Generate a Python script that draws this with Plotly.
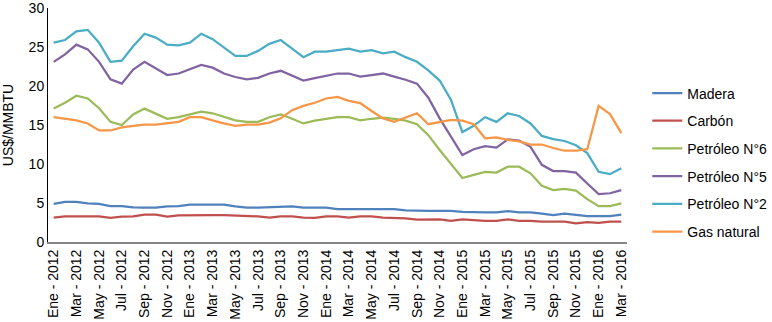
import plotly.graph_objects as go

months_es = ["Ene", "Feb", "Mar", "Abr", "May", "Jun", "Jul", "Ago", "Sep", "Oct", "Nov", "Dic"]
years = [2012, 2013, 2014, 2015, 2016]
categories = [f"{m} - {y}" for y in years for m in months_es][:51]  # Ene 2012 .. Mar 2016
tick_labels = categories[::2]

madera = [4.9, 5.13, 5.13, 4.96, 4.9, 4.6, 4.6, 4.45, 4.4, 4.4, 4.57, 4.6, 4.8, 4.8, 4.8, 4.8, 4.57,
          4.4, 4.4, 4.45, 4.57, 4.57, 4.4, 4.4, 4.4, 4.23, 4.23, 4.23, 4.23, 4.23, 4.23, 4.06, 4.0,
          4.0, 4.0, 4.0, 3.85, 3.8, 3.8, 3.8, 3.97, 3.8, 3.8, 3.63, 3.46, 3.63, 3.46, 3.33, 3.33, 3.33, 3.5]
carbon = [3.12, 3.29, 3.3, 3.3, 3.29, 3.08, 3.25, 3.3, 3.5, 3.5, 3.25, 3.42, 3.46, 3.46, 3.46, 3.46, 3.42,
          3.29, 3.29, 3.12, 3.29, 3.3, 3.12, 3.08, 3.29, 3.29, 3.12, 3.3, 3.29, 3.12, 3.08, 3.04, 2.86,
          2.86, 2.9, 2.7, 2.9, 2.8, 2.7, 2.7, 2.9, 2.7, 2.7, 2.6, 2.6, 2.6, 2.4, 2.55, 2.45, 2.6, 2.6]
petroleo6 = [17.1, 17.85, 18.75, 18.4, 17.15, 15.4, 15.0, 16.35, 17.1, 16.5, 15.8, 16.0, 16.35, 16.7, 16.5, 16.0, 15.6,
             15.4, 15.4, 16.0, 16.35, 15.8, 15.2, 15.55, 15.8, 16.0, 16.0, 15.6, 15.8, 15.95, 15.8, 15.55, 15.1,
             13.7, 11.8, 10.0, 8.2, 8.6, 9.0, 8.9, 9.65, 9.65, 8.8, 7.2, 6.65, 6.8, 6.6, 5.5, 4.6, 4.6, 4.95]
petroleo5 = [23.1, 24.05, 25.3, 24.7, 23.1, 20.85, 20.3, 22.1, 23.1, 22.3, 21.4, 21.6, 22.1, 22.7, 22.35, 21.6, 21.15,
             20.85, 21.05, 21.6, 21.95, 21.35, 20.7, 21.0, 21.3, 21.6, 21.6, 21.2, 21.4, 21.6, 21.2, 20.8, 20.3,
             18.5, 15.85, 13.5, 11.15, 11.9, 12.3, 12.1, 13.15, 13.0, 12.2, 9.9, 9.1, 9.1, 8.9, 7.5, 6.15, 6.25, 6.65]
petroleo2 = [25.55, 25.9, 27.0, 27.2, 25.55, 23.1, 23.25, 25.1, 26.7, 26.2, 25.3, 25.2, 25.55, 26.7, 26.0, 24.9, 23.85,
             23.85, 24.5, 25.4, 25.9, 24.8, 23.7, 24.4, 24.4, 24.6, 24.8, 24.4, 24.6, 24.2, 24.4, 23.7, 23.1,
             22.0, 20.7, 18.2, 14.1, 14.9, 16.0, 15.4, 16.5, 16.15, 15.2, 13.6, 13.2, 12.95, 12.4, 11.4, 9.0, 8.7, 9.45]
gas_natural = [16.0, 15.8, 15.6, 15.2, 14.3, 14.3, 14.7, 14.9, 15.05, 15.05, 15.2, 15.4, 16.0, 16.0, 15.6, 15.2, 14.9,
               15.05, 15.05, 15.3, 15.85, 16.9, 17.45, 17.85, 18.4, 18.6, 18.1, 17.8, 16.8, 15.85, 15.4, 16.0, 16.5,
               15.1, 15.4, 15.65, 15.55, 15.1, 13.3, 13.4, 13.1, 12.9, 12.5, 12.5, 12.05, 11.7, 11.7, 11.9, 17.45, 16.4, 13.95]

series_names = ["Madera", "Carbón", "Petróleo N°6", "Petróleo N°5", "Petróleo N°2", "Gas natural"]
series_values = [madera, carbon, petroleo6, petroleo5, petroleo2, gas_natural]
colors = ["#4F81BD", "#C0504D", "#9BBB59", "#8064A2", "#4BACC6", "#F79646"]

fig = go.Figure()
for name, vals, col in zip(series_names, series_values, colors):
    fig.add_trace(go.Scatter(x=categories, y=vals, mode="lines", name=name,
                             legendgroup=name,
                             line=dict(color=col, width=2.25)))

font = dict(family="Liberation Sans, Arial, sans-serif", size=14, color="#000000")
fig.update_layout(
    width=772, height=322,
    margin=dict(l=48, r=145, t=8, b=80, autoexpand=False),
    paper_bgcolor="white", plot_bgcolor="white",
    font=font,
    showlegend=True,
    legend=dict(x=1.035, y=0.34, xanchor="left", yanchor="middle",
                traceorder="grouped", tracegroupgap=6.5,
                font=font, bgcolor="rgba(0,0,0,0)", itemwidth=30),
    xaxis=dict(type="category", tickmode="array", tickvals=tick_labels, ticktext=tick_labels,
               range=[-0.5, len(categories) - 0.5], automargin=False,
               tickangle=-90, showgrid=False, showline=True, linecolor="#868686", linewidth=2,
               ticks="", tickfont=font, zeroline=False),
    yaxis=dict(range=[0, 30], tickvals=[0, 5, 10, 15, 20, 25, 30], showgrid=False,
               showline=True, linecolor="#000000", linewidth=1, ticks="", automargin=False,
               tickfont=font, zeroline=False, ticklabeloverflow="allow",
               title=dict(text="US$/MMBTU", font=font, standoff=14)),
)

fig.write_html("out.html",
               config={"displayModeBar": False},
               post_script="document.body.style.margin='0';document.body.style.overflow='hidden';")
